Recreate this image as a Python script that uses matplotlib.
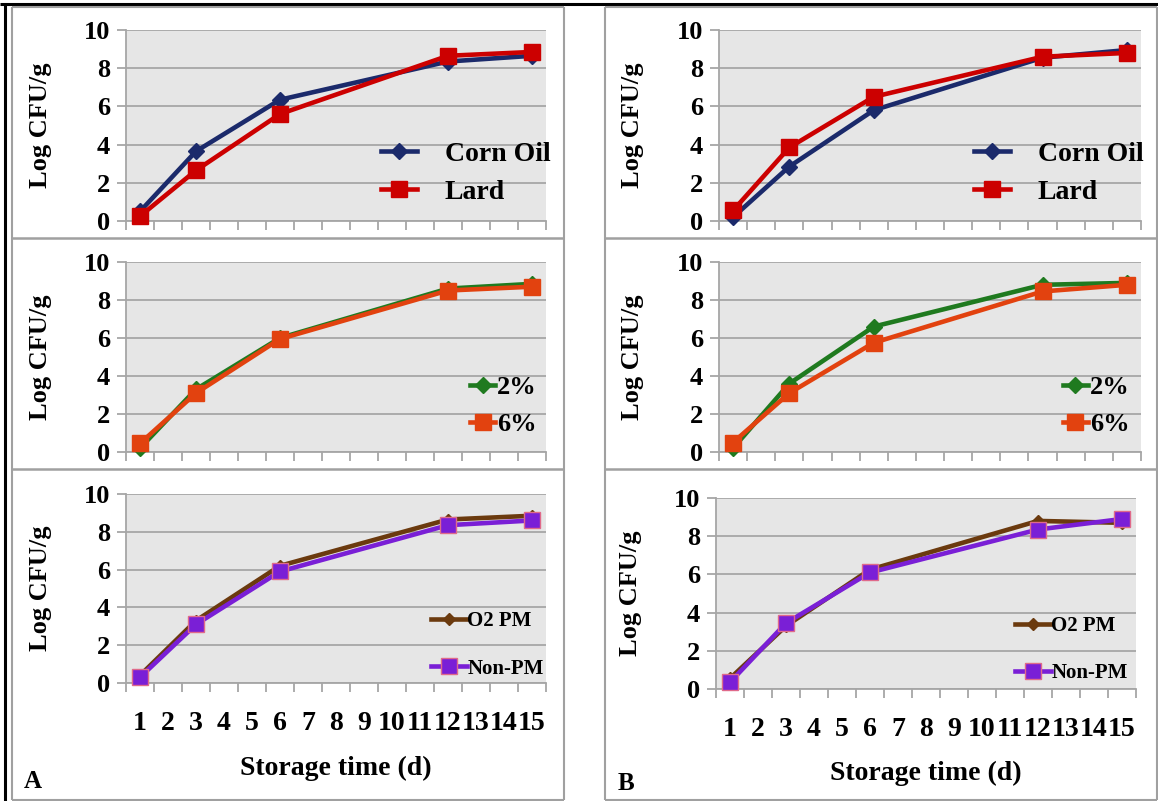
import matplotlib
matplotlib.use("Agg")
import matplotlib.pyplot as plt
from matplotlib.lines import Line2D

# =====================================================
# DATA
# =====================================================

days = list(range(1, 16))
sample_days = [1, 3, 6, 12, 15]

# panel A
a_corn = [0.5, 3.65, 6.35, 8.35, 8.65]
a_lard = [0.25, 2.65, 5.6, 8.65, 8.85]
a_2pct = [0.2, 3.3, 6.0, 8.6, 8.85]
a_6pct = [0.45, 3.1, 5.95, 8.5, 8.7]
a_o2pm = [0.4, 3.3, 6.2, 8.65, 8.85]
a_nonpm = [0.3, 3.1, 5.9, 8.35, 8.6]

# panel B
b_corn = [0.2, 2.85, 5.8, 8.55, 8.95]
b_lard = [0.55, 3.85, 6.5, 8.6, 8.8]
b_2pct = [0.2, 3.6, 6.6, 8.8, 8.9]
b_6pct = [0.5, 3.1, 5.75, 8.45, 8.8]
b_o2pm = [0.55, 3.3, 6.25, 8.8, 8.7]
b_nonpm = [0.35, 3.45, 6.1, 8.35, 8.9]

y_ticks = [0, 2, 4, 6, 8, 10]

# =====================================================
# STYLE
# =====================================================

plt.rcParams["font.family"] = ["Liberation Serif", "DejaVu Serif"]
plt.rcParams["font.weight"] = "bold"

W, H = 1158, 801
GRID = "#A6A6A6"
BG = "#E6E6E6"
FRAME = "#A0A0A0"

C_CORN = "#1B2A6B"
C_LARD = "#CC0000"
C_2PCT = "#1F7A1F"
C_6PCT = "#E2420F"
C_O2 = "#6B3A0E"
C_NON = "#7A1FD6"

fig = plt.figure(figsize=(W / 100, H / 100), dpi=100)
fig.patch.set_facecolor("white")


def px_axes(l, t, r, b):
    return fig.add_axes([l / W, 1 - b / H, (r - l) / W, (b - t) / H])


def px_line(x0, y0, x1, y1, color, lw):
    fig.add_artist(Line2D([x0 / W, x1 / W], [1 - y0 / H, 1 - y1 / H],
                          transform=fig.transFigure, color=color, lw=lw,
                          solid_capstyle="butt"))


def style_axes(ax, bottom_labels):
    ax.set_facecolor(BG)
    ax.set_xlim(0.5, 15.5)
    ax.set_ylim(0, 10)
    ax.set_yticks(y_ticks)
    ax.set_yticklabels([str(v) for v in y_ticks], fontsize=19,
                       fontweight="bold")
    ax.yaxis.grid(True, color=GRID, lw=1.3)
    ax.set_axisbelow(True)
    for s in ["top", "right"]:
        ax.spines[s].set_visible(False)
    for s in ["left", "bottom"]:
        ax.spines[s].set_color(GRID)
        ax.spines[s].set_linewidth(1.3)
    ax.tick_params(axis="y", direction="out", length=6.5, width=1.3,
                   color=GRID, pad=5)
    ax.set_xticks([d + 0.5 for d in [0] + days], minor=True)
    ax.tick_params(axis="x", which="minor", direction="out", length=6.5,
                   width=1.3, color=GRID)
    ax.set_xticks(days)
    if bottom_labels:
        ax.set_xticklabels([str(d) for d in days], fontsize=20,
                           fontweight="bold")
    else:
        ax.set_xticklabels([])
    ax.tick_params(axis="x", which="major", length=0, pad=20)
    ax.set_ylabel("Log CFU/g", fontsize=19, fontweight="bold")
    ax.yaxis.set_label_coords(-0.177, 0.5)


def draw_pair(ax, y1, y2, c1, c2, lab1, lab2, ms1, ms2, ec2):
    ax.plot(sample_days, y1, color=c1, lw=3.3, marker="D", ms=ms1,
            markeredgecolor=c1, label=lab1, clip_on=False, zorder=3)
    ax.plot(sample_days, y2, color=c2, lw=3.3, marker="s", ms=ms2,
            markeredgecolor=ec2, markeredgewidth=1, label=lab2,
            clip_on=False, zorder=4)


# =====================================================
# PANEL FRAMES
# =====================================================

px_line(0, 4, W, 4, "black", 2.2)
px_line(5, 4, 5, H, "black", 2.2)

for (l, r) in [(12, 564), (605, 1157)]:
    px_line(l, 7, l, 800, FRAME, 1.5)
    px_line(r, 7, r, 800, FRAME, 1.5)
    px_line(l, 7, r, 7, FRAME, 1.5)
    px_line(l, 800, r, 800, FRAME, 1.5)
    px_line(l, 238, r, 238, FRAME, 1.8)
    px_line(l, 469, r, 469, FRAME, 1.8)

# =====================================================
# AXES
# =====================================================

boxes = {
    "a1": (126, 30, 546, 221),
    "a2": (126, 262, 546, 452),
    "a3": (126, 494, 546, 683),
    "b1": (719, 30, 1141, 221),
    "b2": (719, 262, 1141, 452),
    "b3": (716, 498, 1136, 689),
}

axs = {}
for key, box in boxes.items():
    ax = px_axes(*box)
    style_axes(ax, key.endswith("3"))
    axs[key] = ax

draw_pair(axs["a1"], a_corn, a_lard, C_CORN, C_LARD,
          "Corn Oil", "Lard", 8, 11, C_LARD)
draw_pair(axs["b1"], b_corn, b_lard, C_CORN, C_LARD,
          "Corn Oil", "Lard", 8, 11, C_LARD)
draw_pair(axs["a2"], a_2pct, a_6pct, C_2PCT, C_6PCT,
          "2%", "6%", 8, 11, C_6PCT)
draw_pair(axs["b2"], b_2pct, b_6pct, C_2PCT, C_6PCT,
          "2%", "6%", 8, 11, C_6PCT)
draw_pair(axs["a3"], a_o2pm, a_nonpm, C_O2, C_NON,
          "O2 PM", "Non-PM", 6, 11, "#E06A8A")
draw_pair(axs["b3"], b_o2pm, b_nonpm, C_O2, C_NON,
          "O2 PM", "Non-PM", 6, 11, "#E06A8A")

# =====================================================
# LEGENDS
# =====================================================


def add_legend(ax, x0, yc, size, hl, htp, ls):
    ax.legend(loc="center left", bbox_to_anchor=(x0, yc), frameon=False,
              borderpad=0, borderaxespad=0,
              prop={"weight": "bold", "size": size},
              handlelength=hl, handletextpad=htp, labelspacing=ls)


add_legend(axs["a1"], 0.607, 0.249, 20, 1.3, 1.0, 0.45)
add_legend(axs["b1"], 0.604, 0.249, 20, 1.3, 1.0, 0.45)
add_legend(axs["a2"], 0.819, 0.242, 19, 0.95, 0.08, 0.5)
add_legend(axs["b2"], 0.815, 0.242, 19, 0.95, 0.08, 0.5)
add_legend(axs["a3"], 0.726, 0.201, 15, 1.75, 0.0, 1.3)
add_legend(axs["b3"], 0.712, 0.207, 15, 1.75, 0.0, 1.3)

# =====================================================
# LABELS
# =====================================================

fig.text(336 / W, 1 - 768 / H, "Storage time (d)", ha="center",
         va="center", fontsize=20, fontweight="bold")
fig.text(926 / W, 1 - 773 / H, "Storage time (d)", ha="center",
         va="center", fontsize=20, fontweight="bold")
fig.text(33 / W, 1 - 782 / H, "A", ha="center", va="center",
         fontsize=18, fontweight="bold")
fig.text(626 / W, 1 - 783 / H, "B", ha="center", va="center",
         fontsize=18, fontweight="bold")

fig.savefig("out.png", dpi=100)
